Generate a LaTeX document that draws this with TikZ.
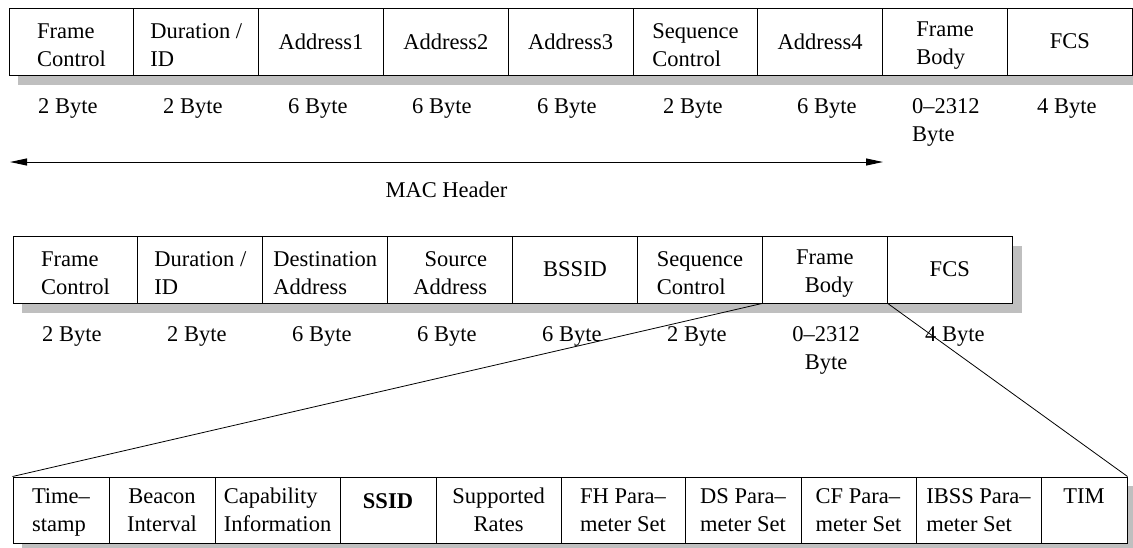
\documentclass[tikz,border=0pt]{standalone}
\usepackage{fontspec}
\setmainfont{Liberation Serif}
\usetikzlibrary{arrows.meta}

\tikzset{
  every node/.style={font=\fontsize{22.5}{28}\selectfont},
  field/.style={draw=black, line width=1pt, fill=white, inner sep=0pt,
                minimum height=67pt},
  % text placement inside a field
  L/.style={align=left, text height=50.4pt},
  R/.style={align=right, text height=50.4pt},
  C/.style={align=center},
  BL/.style={align=left, text depth=0pt},
  BC/.style={align=center, text depth=0pt},
  shade/.style={fill=black!25, draw=none},
  size/.style={anchor=north west, inner sep=0pt, align=left},
  link/.style={line width=0.8pt},
  span/.style={line width=1pt, {Triangle[length=17pt,width=7pt]}-{Triangle[length=17pt,width=7pt]}},
}

\begin{document}
\begin{tikzpicture}[x=1pt, y=-1pt]
\useasboundingbox (0,0) rectangle (1133,547);
\begin{scope}
\clip (0,0) rectangle (1133,547);

% ---------- generic data frame ----------
\fill[shade] (18,18) rectangle (1141,85);
\foreach \i/\txt/\al in {0/{Frame\\Control}/L, 1/{Duration /\\ID}/L,
    2/Address1/C, 3/Address2/C, 4/Address3/C,
    5/{Sequence\\Control}/L, 6/Address4/C, 7/{Frame\\Body}/L,
    8/FCS/C}
  \node[field, minimum width=124.8pt, \al] (t\i) at (71.4+124.8*\i, 41.5) {\txt};

\foreach \x/\txt in {38/2 Byte, 163/2 Byte, 288/6 Byte, 412/6 Byte, 537/6 Byte,
    663/2 Byte, 797/6 Byte, 912/{0–2312\\Byte}, 1037/4 Byte}
  \node[size] at (\x, 98) {\txt};

\coordinate (hl) at (10,162);
\coordinate (hr) at (883,162);
\draw[span] (hl) -- (hr);
\node[anchor=center, inner sep=0pt] (mac) at (446.5,190) {MAC Header};

% ---------- beacon frame ----------
\fill[shade] (22,246) rectangle (1022,313);
\foreach \i/\txt/\al in {0/{Frame\\Control}/L, 1/{Duration /\\ID}/L,
    2/{Destination\\Address}/L, 3/{Source\\Address}/R, 4/BSSID/C,
    5/{Sequence\\Control}/L, 6/{Frame\\Body}/R, 7/FCS/C}
  \node[field, minimum width=124.9pt, \al] (m\i) at (75.45+124.9*\i, 269.5) {\txt};

\foreach \x/\txt in {42/2 Byte, 167/2 Byte, 292/6 Byte, 417/6 Byte, 542/6 Byte,
    667/2 Byte, 925/4 Byte}
  \node[size] at (\x, 326) {\txt};
\node[anchor=north, inner sep=0pt, align=center] (fbsize) at (826, 326) {0–2312\\Byte};

% ---------- frame body of the beacon ----------
\fill[shade] (22,486) rectangle (1136,553);
\foreach \name/\l/\r/\txt/\al in {
    b0/13/109/{Time–\\stamp}/BL,
    b1/109/215/{Beacon\\Interval}/BC,
    b2/215/340/{Capability\\Information}/BL,
    b4/436/561/{Supported\\Rates}/BC,
    b5/561/685/{FH Para–\\meter Set}/BL,
    b6/685/801/{DS Para–\\meter Set}/BL,
    b7/801/916/{CF Para–\\meter Set}/BL,
    b8/916/1041/{IBSS Para–\\meter Set}/BL,
    b9/1041/1127/{TIM\\\mbox{}}/BC}
  \node[field, minimum width=\r pt-\l pt, minimum height=66pt, \al]
    (\name) at ({(\l+\r)/2}, 510) {\txt};
\node[field, minimum width=96pt, minimum height=66pt, align=center,
      text depth=18pt] (b3) at (388, 510) {\textbf{SSID}};

% expansion lines from the frame body
\draw[link] (m6.south west) -- (b0.north west);
\draw[link] (m6.south east) -- (b9.north east);
\end{scope}
\end{tikzpicture}
\end{document}
